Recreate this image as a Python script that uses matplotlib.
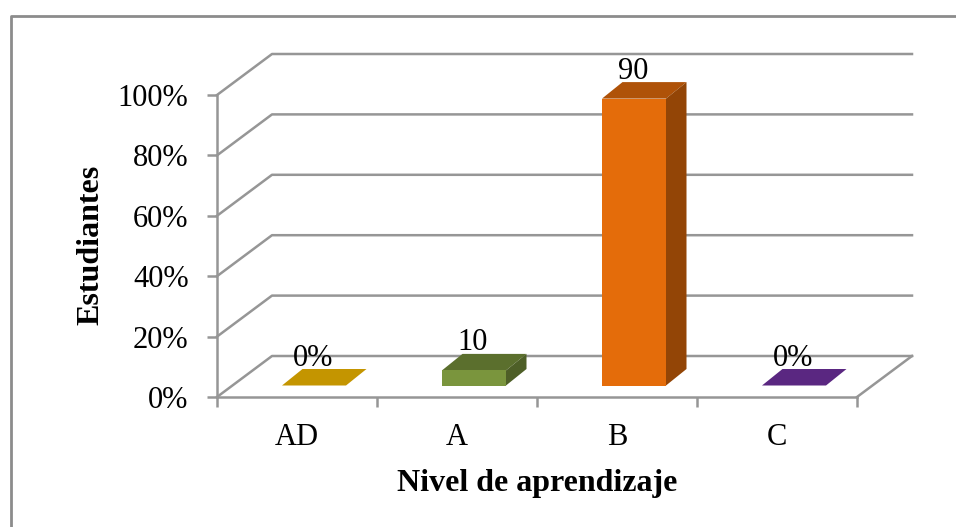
import numpy as np
import matplotlib
matplotlib.use("Agg")
import matplotlib.pyplot as plt
from matplotlib.patches import Polygon

plt.rcParams['font.family'] = ['Liberation Serif', 'DejaVu Serif']

categorias = ["AD", "A", "B", "C"]
valores = [0, 5, 95, 0]
etiquetas = ["0%", "10", "90", "0%"]
caras = ["#C49500", "#7A953D", "#E46C0A", "#5A2781"]
tapas = ["#C49500", "#5B6F2D", "#AF5208", "#5A2781"]
lados = ["#C49500", "#4E5F27", "#934506", "#5A2781"]
marcas_y = [0, 20, 40, 60, 80, 100]

W, H = 956, 527
GRIS = "#969696"

fig = plt.figure(figsize=(W / 100, H / 100), dpi=100)
ax = fig.add_axes([217 / W, 1 - 397 / H, 640 / W, 302 / H])
ax.set_xlim(0, 4)
ax.set_ylim(0, 100)

# unidades de datos por pixel
ux = 4 / 640
uy = 100 / 302
fx, fy = 55 * ux, 41 * uy      # fondo del piso 3D
dx, dy = 20.5 * ux, 16.5 * uy  # profundidad de las barras
ancho = 64 * ux

# rejilla oblicua
for v in marcas_y:
    ax.plot([0, fx, 4 + fx], [v, v + fy, v + fy], color=GRIS, lw=1.8, clip_on=False, zorder=1)
ax.plot([4, 4 + fx], [0, fy], color=GRIS, lw=1.8, clip_on=False, zorder=1)

# barras
for i, v in enumerate(valores):
    x0 = i + 65 * ux
    y0 = 11.5 * uy
    x1 = x0 + ancho
    y1 = y0 + v
    ax.add_patch(Polygon([(x0, y1), (x0 + dx, y1 + dy), (x1 + dx, y1 + dy), (x1, y1)],
                         fc=tapas[i], ec="none", clip_on=False, zorder=3))
    ax.add_patch(Polygon([(x1, y0), (x1 + dx, y0 + dy), (x1 + dx, y1 + dy), (x1, y1)],
                         fc=lados[i], ec="none", clip_on=False, zorder=3))
    ax.fill_between([x0, x1], [y0, y0], [y1, y1], color=caras[i], lw=0, clip_on=False, zorder=3)
    ax.text(x0 + 31 * ux, y1 + dy + 3.5 * uy, etiquetas[i], ha="center", va="baseline",
            fontsize=22, color="black", zorder=4)

ax.set_xticks(range(5))
ax.set_xticklabels([])
ax.set_xticks(np.arange(4) + 0.5, categorias, minor=True, fontsize=22)
ax.set_yticks(marcas_y, [f"{v}%" for v in marcas_y], fontsize=22)
ax.tick_params(axis="both", which="major", color=GRIS, width=1.8, length=7.5)
ax.tick_params(axis="x", which="minor", length=0, pad=19)
ax.tick_params(axis="y", pad=13)

for lado in ["top", "right"]:
    ax.spines[lado].set_visible(False)
for lado in ["left", "bottom"]:
    ax.spines[lado].set_color(GRIS)
    ax.spines[lado].set_linewidth(1.8)

fig.text(537 / W, 1 - 483 / H, "Nivel de aprendizaje", ha="center", va="center",
         fontsize=23, fontweight="bold")
fig.text(91 / W, 1 - 245 / H, "Estudiantes", ha="center", va="center", rotation=90,
         fontsize=23, fontweight="bold")

# borde del grafico
fig.add_artist(plt.Line2D([10.5 / W, 10.5 / W, 1], [0, 1 - 16 / H, 1 - 16 / H],
                          color="#8C8C8C", lw=2))

fig.savefig("out.png", dpi=100)
